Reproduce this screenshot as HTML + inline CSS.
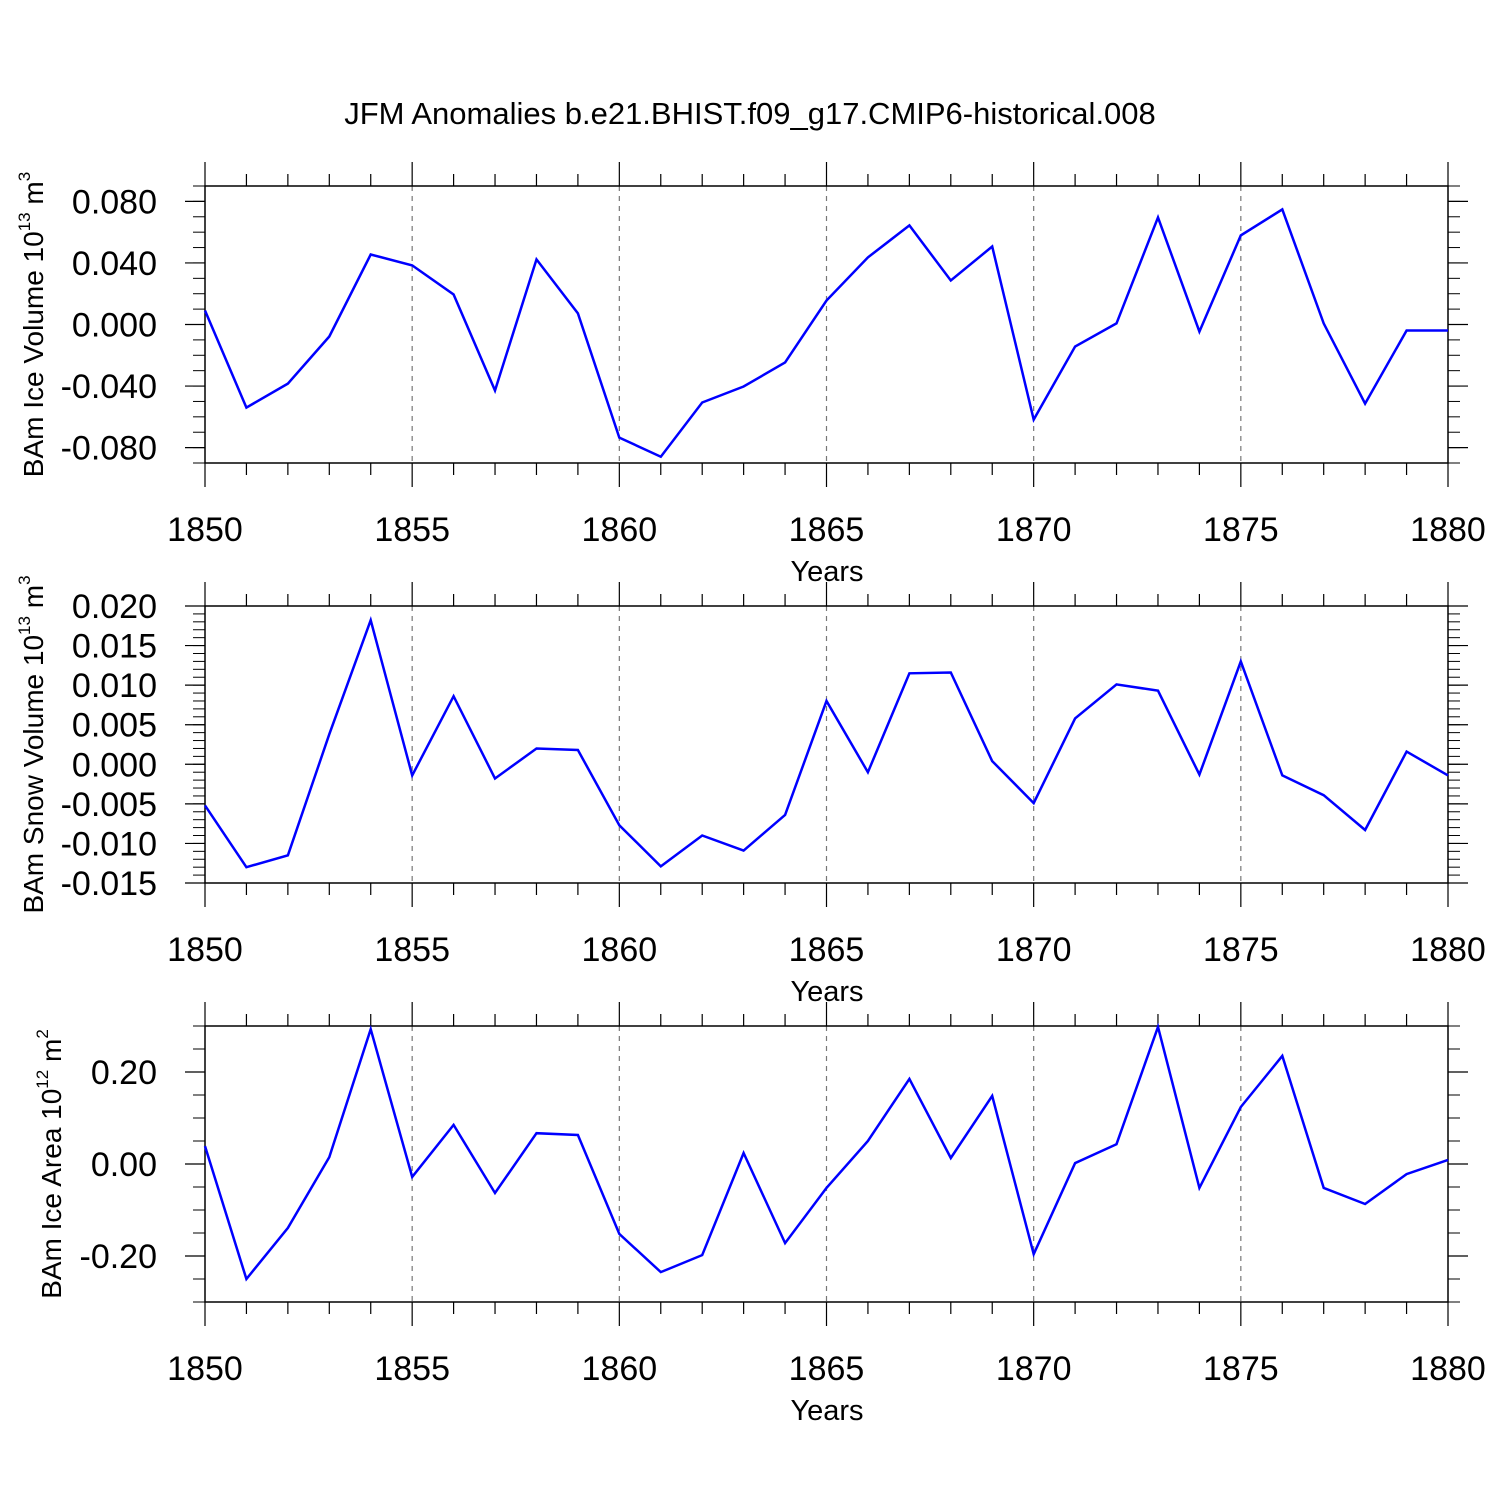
<!DOCTYPE html>
<html><head><meta charset="utf-8">
<style>
html,body{margin:0;padding:0;background:#fff;}
svg{display:block;font-family:"Liberation Sans",Arial,sans-serif;}
</style></head>
<body>
<svg id="chart" width="1500" height="1500" viewBox="0 0 1500 1500" xmlns="http://www.w3.org/2000/svg">
<rect width="1500" height="1500" fill="#fff"/>
<text x="750" y="124" text-anchor="middle" font-size="31">JFM Anomalies b.e21.BHIST.f09_g17.CMIP6-historical.008</text>
</svg>
<script>
const years = [1850,1851,1852,1853,1854,1855,1856,1857,1858,1859,1860,1861,1862,1863,1864,1865,1866,1867,1868,1869,1870,1871,1872,1873,1874,1875,1876,1877,1878,1879,1880];
const iceVolume = [0.0091,-0.054,-0.0384,-0.0078,0.0455,0.0384,0.0195,-0.0429,0.0423,0.0072,-0.0735,-0.0859,-0.0507,-0.0403,-0.0247,0.0156,0.0436,0.0644,0.0286,0.0507,-0.0618,-0.0143,0.0007,0.0696,-0.0046,0.0579,0.0748,0.0007,-0.0514,-0.0039,-0.0039];
const snowVolume = [-0.0052,-0.0130,-0.0115,0.0038,0.0182,-0.0014,0.0086,-0.0018,0.0020,0.0018,-0.0077,-0.0129,-0.0090,-0.0109,-0.0064,0.0080,-0.0010,0.0115,0.0116,0.0004,-0.0049,0.0058,0.0101,0.0093,-0.0013,0.0130,-0.0014,-0.0039,-0.0083,0.0016,-0.0014];
const iceArea = [0.039,-0.250,-0.139,0.015,0.293,-0.028,0.085,-0.063,0.067,0.063,-0.152,-0.235,-0.198,0.024,-0.172,-0.052,0.050,0.185,0.013,0.148,-0.196,0.002,0.043,0.298,-0.052,0.124,0.235,-0.052,-0.087,-0.022,0.009];
const xTickLabels = ["1850","1855","1860","1865","1870","1875","1880"];
const iceVolTicks = [0.08,0.04,0,-0.04,-0.08];
const iceVolLabels = ["0.080","0.040","0.000","-0.040","-0.080"];
const snowTicks = [0.02,0.015,0.01,0.005,0,-0.005,-0.01,-0.015];
const snowLabels = ["0.020","0.015","0.010","0.005","0.000","-0.005","-0.010","-0.015"];
const areaTicks = [0.2,0,-0.2];
const areaLabels = ["0.20","0.00","-0.20"];

const NS = "http://www.w3.org/2000/svg";
const svg = document.getElementById('chart');
function mk(tag, attrs, parent){const e=document.createElementNS(NS,tag);for(const k in attrs)e.setAttribute(k,attrs[k]);(parent||svg).appendChild(e);return e;}
const X0=205, X1=1448;
const xScale = yr => X0 + (yr-1850)/30*(X1-X0);

function panel(cfg){
  const g = mk('g',{});
  
  
  const yS = v => cfg.top + (cfg.max - v)/(cfg.max-cfg.min)*(cfg.bot-cfg.top);
  for(let yr=1855; yr<=1875; yr+=5){
    const l=mk('line',{x1:xScale(yr),x2:xScale(yr),y1:cfg.top,y2:cfg.bot,stroke:'#777','stroke-width':1.2,'stroke-dasharray':'5,5'},g);
    
    
  }
  for(let yr=1850; yr<=1880; yr++){
    const major = yr%5===0, len = major?24:12, x=xScale(yr);
    mk('line',{x1:x,x2:x,y1:cfg.top-len,y2:cfg.top,stroke:'#000','stroke-width':1.2},g);
    mk('line',{x1:x,x2:x,y1:cfg.bot,y2:cfg.bot+len,stroke:'#000','stroke-width':1.2},g);
  }
  xTickLabels.forEach(s=>{
    const t=mk('text',{x:xScale(+s),y:cfg.bot+78,'text-anchor':'middle','font-size':34},g);
    t.textContent=s;
    
    
  });
  for(let v=cfg.min; v<=cfg.max+1e-9; v+=cfg.minor){
    const y=yS(v);
    mk('line',{x1:X0-12,x2:X0,y1:y,y2:y,stroke:'#000','stroke-width':1},g);
    mk('line',{x1:X1,x2:X1+12,y1:y,y2:y,stroke:'#000','stroke-width':1},g);
  }
  cfg.ticks.forEach((v,i)=>{
    const y=yS(v);
    mk('line',{x1:X0-20,x2:X0,y1:y,y2:y,stroke:'#000','stroke-width':1.2},g);
    mk('line',{x1:X1,x2:X1+20,y1:y,y2:y,stroke:'#000','stroke-width':1.2},g);
    const t=mk('text',{x:X0-48,y:y+12,'text-anchor':'end','font-size':34},g);
    t.textContent=cfg.labels[i];
    
    
  });
  const f=mk('rect',{x:X0,y:cfg.top,width:X1-X0,height:cfg.bot-cfg.top,fill:'none',stroke:'#000','stroke-width':1.5},g);
  
  
  const pts = years.map((yr,i)=>xScale(yr).toFixed(1)+','+yS(cfg.data[i]).toFixed(1)).join(' ');
  const p=mk('polyline',{points:pts,fill:'none',stroke:'#0000ff','stroke-width':2.5,'stroke-linejoin':'miter'},g);
  
  
  const xt=mk('text',{x:827,y:cfg.bot+118,'text-anchor':'middle','font-size':29},g);
  xt.textContent='Years';
  
  
  const cy=(cfg.top+cfg.bot)/2;
  const yt=mk('text',{x:0,y:0,'text-anchor':'middle','font-size':28,transform:`translate(${cfg.ytx},${cy}) rotate(-90)`},g);
  
  
  yt.innerHTML = cfg.ytitle + ' 10<tspan font-size="17" dy="-13">'+cfg.exp+'</tspan><tspan dy="13"> m</tspan><tspan font-size="17" dy="-13">'+cfg.mexp+'</tspan>';
}
panel({name:'ice-volume-panel',top:186,bot:463,min:-0.09,max:0.09,minor:0.01,ticks:iceVolTicks,labels:iceVolLabels,data:iceVolume,ytitle:'BAm Ice Volume',exp:'13',mexp:'3',ytx:43});
panel({name:'snow-volume-panel',top:606,bot:883,min:-0.015,max:0.02,minor:0.001,ticks:snowTicks,labels:snowLabels,data:snowVolume,ytitle:'BAm Snow Volume',exp:'13',mexp:'3',ytx:43});
panel({name:'ice-area-panel',top:1026,bot:1302,min:-0.3,max:0.3,minor:0.05,ticks:areaTicks,labels:areaLabels,data:iceArea,ytitle:'BAm Ice Area',exp:'12',mexp:'2',ytx:61});
</script>
</body></html>
